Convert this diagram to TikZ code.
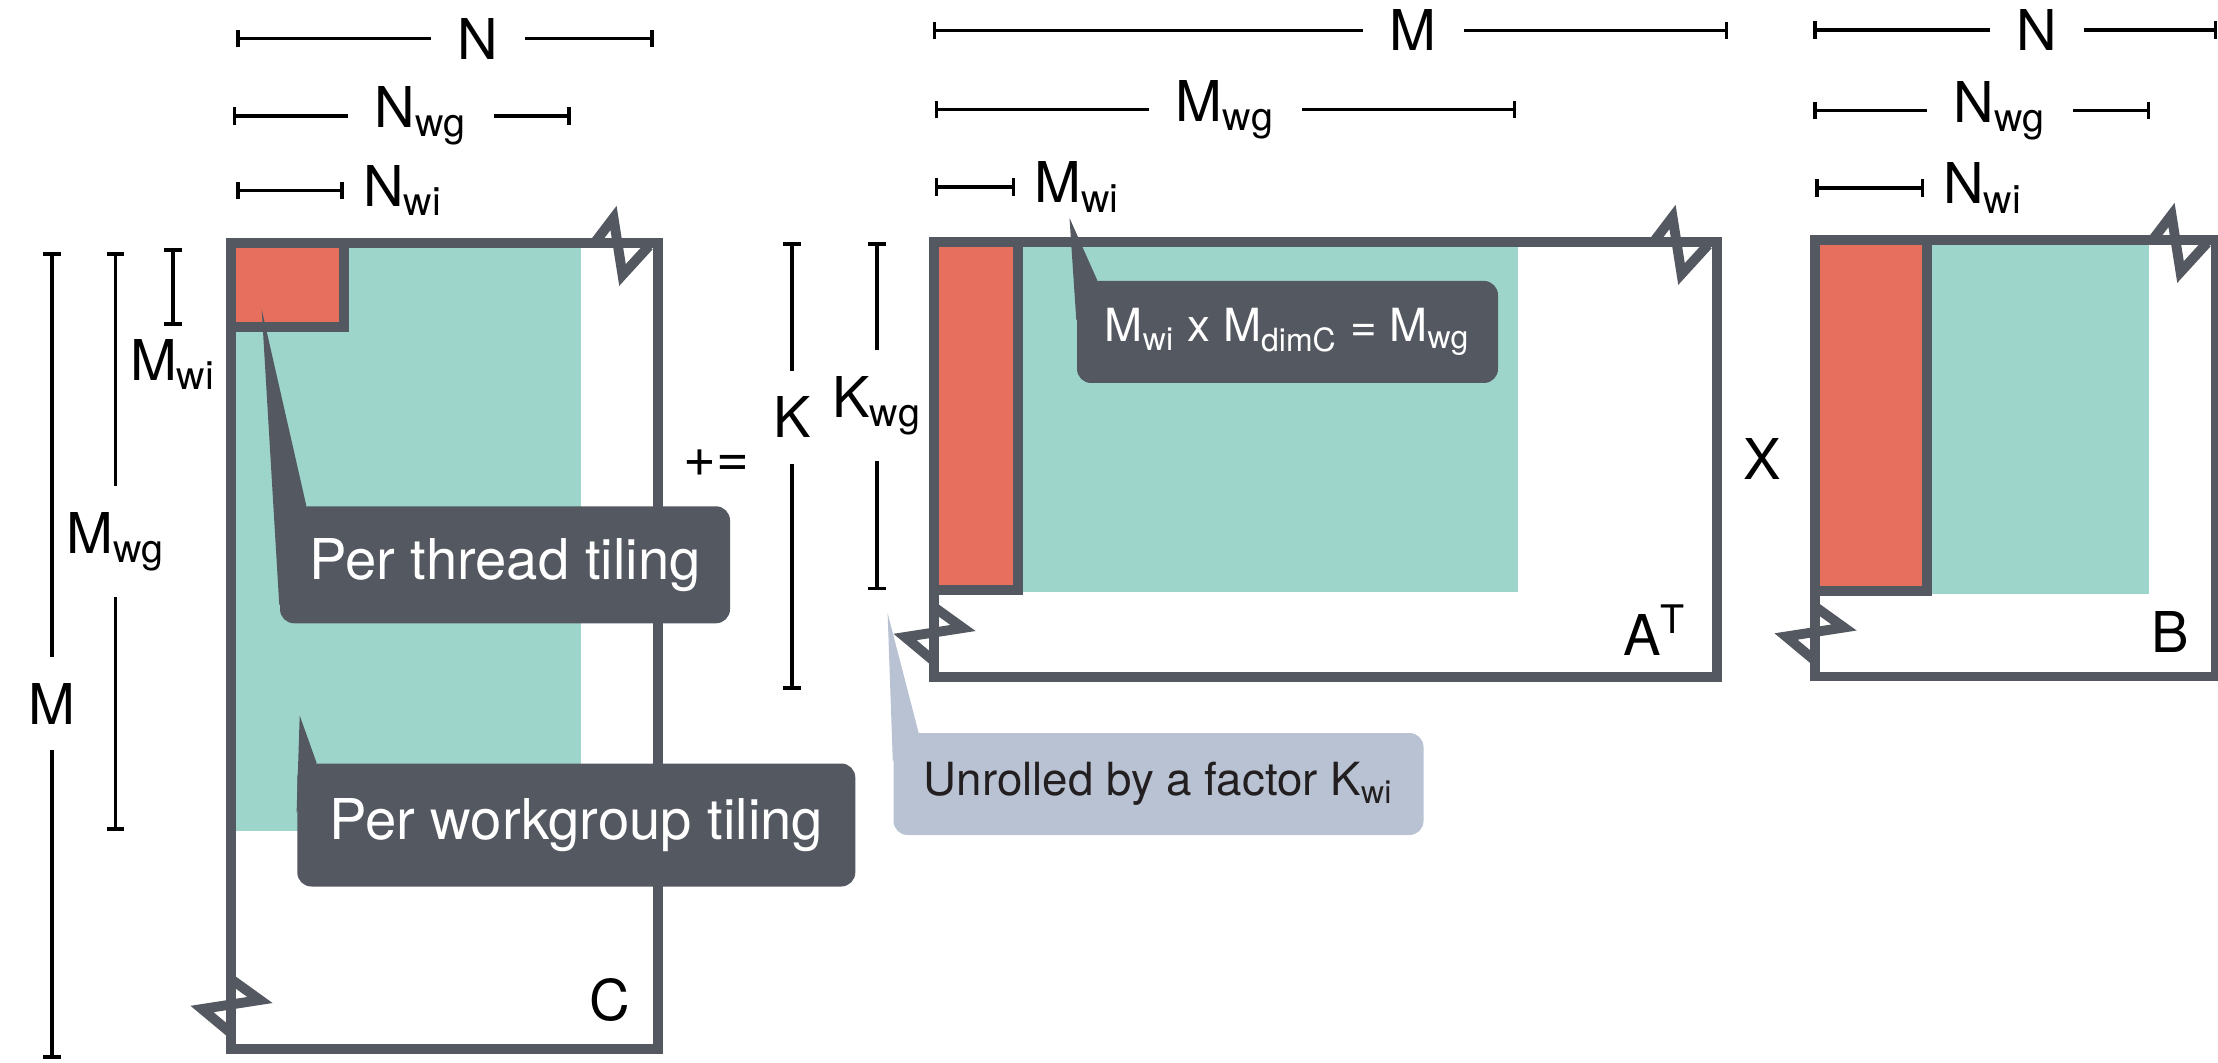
\documentclass[tikz,border=0pt]{standalone}
\usepackage{fontspec}
\setmainfont{TeX Gyre Heros}
\usepackage{tikz}
\usetikzlibrary{arrows.meta, positioning, calc}
\definecolor{tilegray}{HTML}{545860}
\definecolor{tilered}{HTML}{E66F5E}
\definecolor{tileteal}{HTML}{9DD5CB}
\definecolor{tileblue}{HTML}{B8C2D3}
\definecolor{tileink}{HTML}{231F20}

\begin{document}
\begin{tikzpicture}[
    every node/.style={font=\fontsize{16}{19}\selectfont},
    frame/.style={draw=tilegray, line width=2.7pt},
    wgtile/.style={fill=tileteal},
    witile/.style={fill=tilered, draw=tilegray, line width=2.7pt},
    brk/.style={draw=tilegray, line width=2.8pt, line join=miter},
    dim/.style={{Bar[width=5pt]}-{Bar[width=5pt]}, line width=1pt},
    hlbl/.style={fill=white, inner xsep=0.27cm, inner ysep=1pt},
    vlbl/.style={fill=white, inner xsep=1pt, inner ysep=0.26cm},
    note/.style={fill=tilegray, text=white, rounded corners=4pt, align=center, inner sep=0pt},
    smallnote/.style={note, font=\fontsize{13}{16}\selectfont}
]
    \useasboundingbox (0,0) rectangle (22.18,10.62);

    % Matrix corners
    \coordinate (Cnw) at (2.31,8.19);
    \coordinate (Cse) at (6.58,0.13);
    \coordinate (Anw) at (9.34,8.20);
    \coordinate (Ase) at (17.17,3.85);
    \coordinate (Bnw) at (18.15,8.22);
    \coordinate (Bse) at (22.16,3.855);

    % Workgroup and thread tiles
    \fill[wgtile] (Cnw) rectangle (5.81,2.31);
    \fill[wgtile] (Anw) rectangle (15.18,4.70);
    \fill[wgtile] (Bnw) rectangle (21.49,4.68);
    \draw[witile] (Cnw) rectangle (3.44,7.35);
    \draw[witile] (Anw) rectangle (10.18,4.72);
    \draw[witile] (Bnw) rectangle (19.27,4.71);

    % Matrix frames
    \draw[frame] (Cnw) rectangle (Cse);
    \draw[frame] (Anw) rectangle (Ase);
    \draw[frame] (Bnw) rectangle (Bse);

    % Break marks
    \foreach \m in {C,A,B} {
        \draw[brk] (\m nw -| \m se) ++(-0.62,0.02) -- ++(0.175,0.23) -- ++(0.09,-0.57) -- ++(0.265,0.29);
        \draw[brk] (\m nw |- \m se) ++(0.012,0.69) -- ++(0.278,-0.2) -- ++(-0.58,-0.09) -- ++(0.30,-0.25);
    }

    % Matrix names and operators
    \node (lblC) at (6.097,0.625) {C};
    \node (lblA) at (16.55,4.32) {A\textsuperscript{T}};
    \node (lblB) at (21.707,4.30) {B};
    \node (pluseq) at (7.165,5.99) {+=};
    \node (times) at (17.625,6.026) {X};

    % Row dimensions of C
    \draw[dim] (0.52,8.10) -- node[vlbl, pos=0.56] (dimM) {M} (0.52,0.03);
    \draw[dim] (1.156,8.10) -- node[vlbl, pos=0.5] (dimMwg) {M\textsubscript{wg}} (1.156,2.31);
    \draw[dim] (1.73,8.14) -- (1.73,7.36) node[below] (dimMwi) {M\textsubscript{wi}};

    % Column dimensions of C
    \draw[dim] (2.36,10.233) -- node[hlbl, pos=0.58] (dimN) {N} (6.535,10.233);
    \draw[dim] (2.327,9.46) -- node[hlbl, pos=0.556] (dimNwg) {N\textsubscript{wg}} (5.71,9.46);
    \draw[dim] (2.36,8.716) -- (3.437,8.716) node[right, inner xsep=5pt] (dimNwi) {N\textsubscript{wi}};

    % K dimensions
    \draw[dim] (7.92,8.20) -- node[vlbl, pos=0.391] (dimK) {K} (7.92,3.723);
    \draw[dim] (8.77,8.20) -- node[vlbl, pos=0.469] (dimKwg) {K\textsubscript{wg}} (8.77,4.716);

    % Column dimensions of A^T
    \draw[dim] (9.329,10.315) -- node[hlbl, pos=0.604] (dimAM) {M} (17.28,10.315);
    \draw[dim] (9.346,9.523) -- node[hlbl, pos=0.5] (dimAMwg) {M\textsubscript{wg}} (15.16,9.523);
    \draw[dim] (9.346,8.75) -- (10.15,8.75) node[right, inner xsep=5pt] (dimAMwi) {M\textsubscript{wi}};

    % Column dimensions of B
    \draw[dim] (18.13,10.32) -- node[hlbl, pos=0.554] (dimBN) {N} (22.17,10.32);
    \draw[dim] (18.13,9.515) -- node[hlbl, pos=0.555] (dimBNwg) {N\textsubscript{wg}} (21.5,9.515);
    \draw[dim] (18.15,8.74) -- (19.24,8.74) node[right, inner xsep=5pt] (dimBNwi) {N\textsubscript{wi}};

    % Callouts
    \coordinate (thrtip) at (2.617,7.525);
    \coordinate (wgtip) at (2.997,3.465);
    \coordinate (eqtip) at (10.695,8.44);
    \coordinate (kwitip) at (8.876,4.49);

    \node[note, minimum width=4.50cm, minimum height=1.17cm] (thr) at (5.05,4.972) {Per thread tiling};
    \fill[tilegray] (thrtip) -- ([xshift=0.27cm]thr.north west) -- ([yshift=-1.0cm]thr.north west) -- cycle;

    \node[note, minimum width=5.58cm, minimum height=1.23cm] (wg) at (5.763,2.37) {Per workgroup tiling};
    \fill[tilegray] (wgtip) -- ([xshift=0.20cm]wg.north west) -- ([yshift=-0.5cm]wg.north west) -- cycle;

    \node[smallnote, minimum width=4.21cm, minimum height=1.02cm] (eq) at (12.875,7.30) {M\textsubscript{wi} x M\textsubscript{dimC} = M\textsubscript{wg}};
    \fill[tilegray] (eqtip) -- ([xshift=0.21cm]eq.north west) -- ([yshift=-0.4cm]eq.north west) -- cycle;

    \node[smallnote, fill=tileblue, text=tileink, minimum width=5.30cm, minimum height=1.02cm] (kwi) at (11.585,2.78) {Unrolled by a factor K\textsubscript{wi}};
    \fill[tileblue] (kwitip) -- ([xshift=0.257cm]kwi.north west) -- ([yshift=-0.29cm]kwi.north west) -- cycle;
\end{tikzpicture}
\end{document}
